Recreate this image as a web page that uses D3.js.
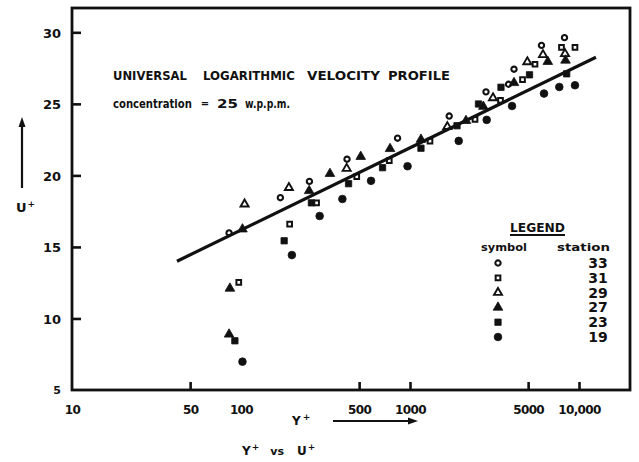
<!DOCTYPE html>
<html>
<head>
<meta charset="utf-8">
<script src="https://cdn.jsdelivr.net/npm/d3@7/dist/d3.min.js"></script>
<style>
  html, body { margin: 0; padding: 0; background: #fff; }
  svg { display: block; }
  text { font-family: "DejaVu Sans", "Liberation Sans", Arial, sans-serif; font-weight: bold; fill: #111; }
</style>
</head>
<body>
<svg id="chart" width="639" height="462"></svg>
<script>
// Y+ / U+ readings for each measuring station
const station33 = [[85,15.98],[171,18.44],[254,19.58],[424,21.13],[844,22.6],[1706,24.15],[2816,25.84],[3828,26.37],[4125,27.42],[5998,29.09],[8207,29.63]];
const station31 = [[97,12.52],[194,16.59],[280,18.08],[484,19.91],[754,21.03],[1313,22.39],[2425,23.91],[3432,25.25],[4632,26.7],[5490,27.77],[7876,28.95],[9467,28.95]];
const station29 = [[105,17.99],[192,19.14],[422,20.48],[1663,23.4],[3098,25.41],[4946,27.93],[6124,28.43],[8265,28.5]];
const station27 = [[85,8.89],[86,12.1],[102,16.24],[253,18.92],[336,20.12],[511,21.31],[762,21.86],[1161,22.51],[2144,23.82],[2716,24.81],[4125,26.47],[6538,27.95],[8320,28.04]];
const station23 = [[92,8.44],[180,15.43],[261,18.08],[433,19.42],[688,20.54],[1161,21.9],[1897,23.47],[2543,24.99],[3454,26.16],[5095,27.03],[8455,27.1]];
const station19 = [[102,6.98],[200,14.43],[292,17.16],[398,18.35],[588,19.62],[967,20.64],[1942,22.41],[2843,23.88],[4015,24.85],[6209,25.72],[7645,26.18],[9467,26.3]];

const stationNames = ["33", "31", "29", "27", "23", "19"];
const stationData = [station33, station31, station29, station27, station23, station19];

// fitted logarithmic law, drawn between these Y+ limits
const lawRange = [41.8, 12600];
const lawSlope = 5.75;      // per decade of Y+
const lawIntercept = 4.68;

const xTickValues = [10, 50, 100, 500, 1000, 5000, 10000];
const xTickLabels = ["10", "50", "100", "500", "1000", "5000", "10,000"];
const xTickMarked = [50, 500, 1000, 5000, 10000];
const yTickValues = [5, 10, 15, 20, 25, 30];

const svg = d3.select("#chart");
const plotLeft = 72, plotRight = 630, plotTop = 8, plotBottom = 390;
const ink = "#111";
const fontFamily = "DejaVu Sans, Liberation Sans, Arial, sans-serif";

const x = d3.scaleLog().domain([10, Math.pow(10, 1 + (plotRight - plotLeft) / 169)]).range([plotLeft, plotRight]);
const y = d3.scaleLinear().domain([5, 31.7]).range([plotBottom, plotTop]);

// marker styles per station: open circle, open square, open triangle, filled triangle, filled square, filled circle
const markerStyles = [
  { type: d3.symbolCircle,   size: 22, fill: "none", sw: 2.1 },
  { type: d3.symbolSquare,   size: 22, fill: "none", sw: 2.0 },
  { type: d3.symbolTriangle, size: 28, fill: "none", sw: 1.9 },
  { type: d3.symbolTriangle, size: 40, fill: ink, sw: 0.8 },
  { type: d3.symbolSquare,   size: 40, fill: ink, sw: 0.8 },
  { type: d3.symbolCircle,   size: 46, fill: ink, sw: 0.8 }
];
const symbolPath = s => d3.symbol().type(s.type).size(s.size)();

// text squeezed horizontally to a given width (scaled about its left edge)
function fittedText(str, tx, ty, size, width) {
  const t = svg.append("text").attr("x", 0).attr("y", 0).attr("font-size", size).text(str);
  const natural = t.node().getComputedTextLength();
  t.attr("transform", `translate(${tx},${ty}) scale(${width / natural},1)`);
  return t;
}

// frame
svg.append("rect")
  .attr("x", plotLeft).attr("y", plotTop)
  .attr("width", plotRight - plotLeft).attr("height", plotBottom - plotTop)
  .attr("fill", "none").attr("stroke", ink).attr("stroke-width", 2.8);

// y axis
const yAxis = d3.axisLeft(y).tickValues(yTickValues).tickSize(-9).tickPadding(11).tickFormat(d3.format("d"));
const gy = svg.append("g").attr("transform", `translate(${plotLeft},0)`).call(yAxis);
gy.select(".domain").remove();
gy.selectAll(".tick line").attr("stroke", ink).attr("stroke-width", 2.6)
  .attr("opacity", d => d === 5 ? 0 : 1);
gy.selectAll(".tick text").attr("font-family", fontFamily)
  .attr("font-weight", "bold").attr("fill", ink).attr("dy", "0.36em")
  .attr("font-size", d => d === 5 ? 11 : 13);

// x axis
const xAxis = d3.axisBottom(x).tickValues(xTickValues).tickSize(-8).tickPadding(15)
  .tickFormat((d, i) => xTickLabels[i]);
const gx = svg.append("g").attr("transform", `translate(0,${plotBottom})`).call(xAxis);
gx.select(".domain").remove();
gx.selectAll(".tick line").attr("stroke", ink).attr("stroke-width", 2.6)
  .attr("opacity", d => xTickMarked.includes(d) ? 1 : 0);
gx.selectAll(".tick text").attr("font-size", 12).attr("font-family", fontFamily)
  .attr("font-weight", "bold").attr("fill", ink).attr("letter-spacing", "-0.6px");

// logarithmic law line
const law = v => lawSlope * Math.log10(v) + lawIntercept;
svg.append("path")
  .datum(lawRange)
  .attr("d", d3.line().x(d => x(d)).y(d => y(law(d))))
  .attr("stroke", ink).attr("stroke-width", 3.2).attr("fill", "none");

// data points
stationData.forEach((pts, i) => {
  const s = markerStyles[i];
  svg.append("g").selectAll("path").data(pts).join("path")
    .attr("d", symbolPath(s))
    .attr("transform", d => `translate(${x(d[0])},${y(d[1])})`)
    .attr("fill", s.fill)
    .attr("stroke", ink)
    .attr("stroke-width", s.sw);
});

// titles
const titleWords = [["UNIVERSAL", 113, 74], ["LOGARITHMIC", 203, 92], ["VELOCITY", 307, 73], ["PROFILE", 388, 62]];
titleWords.forEach(([w, tx, tl]) => fittedText(w, tx, 80, 12.5, tl));
fittedText("concentration", 113, 108, 11.5, 79);
svg.append("text").attr("x", 205).attr("y", 107).attr("font-size", 10)
  .attr("text-anchor", "middle").text("=");
fittedText("25", 217, 108, 13, 21);
fittedText("w.p.p.m.", 245, 108, 11.5, 45);

// axis labels with arrows
const arrowHead = (px, py, dir) => {
  const pts = dir === "up"
    ? [[px, py], [px - 3.5, py + 10], [px + 3.5, py + 10]]
    : [[px, py], [px - 10, py - 3.5], [px - 10, py + 3.5]];
  svg.append("path").attr("d", "M" + pts.map(p => p.join(",")).join("L") + "Z").attr("fill", ink);
};
svg.append("line").attr("x1", 22).attr("x2", 22).attr("y1", 188).attr("y2", 124)
  .attr("stroke", ink).attr("stroke-width", 2.2);
arrowHead(22, 117, "up");
const uLabel = svg.append("text").attr("x", 16).attr("y", 212).attr("font-size", 13);
uLabel.append("tspan").text("U");
uLabel.append("tspan").attr("font-size", 9).attr("dy", -5).attr("dx", 1).text("+");

const yLabel = svg.append("text").attr("x", 292).attr("y", 425).attr("font-size", 12);
yLabel.append("tspan").text("Y");
yLabel.append("tspan").attr("font-size", 9).attr("dy", -5).attr("dx", 2).text("+");
svg.append("line").attr("x1", 333).attr("x2", 409).attr("y1", 421).attr("y2", 421)
  .attr("stroke", ink).attr("stroke-width", 2.2);
arrowHead(418, 421, "right");

const vsLabel = svg.append("text").attr("x", 242).attr("y", 455).attr("font-size", 12);
vsLabel.append("tspan").text("Y");
vsLabel.append("tspan").attr("font-size", 9).attr("dy", -5).attr("dx", 1).text("+");
vsLabel.append("tspan").attr("font-size", 11).attr("dy", 5).attr("dx", 11).text("vs");
vsLabel.append("tspan").attr("dx", 13).text("U");
vsLabel.append("tspan").attr("font-size", 9).attr("dy", -5).attr("dx", 1).text("+");

// legend
fittedText("LEGEND", 510, 232, 12, 55);
svg.append("line").attr("x1", 510).attr("x2", 565).attr("y1", 235).attr("y2", 235)
  .attr("stroke", ink).attr("stroke-width", 1.8);
fittedText("symbol", 481, 251, 11, 46);
fittedText("station", 557, 251, 11, 53);
stationNames.forEach((name, i) => {
  const ly = 263 + i * 14.8;
  const s = markerStyles[i];
  svg.append("path").attr("d", symbolPath(s))
    .attr("transform", `translate(498,${ly})`)
    .attr("fill", s.fill).attr("stroke", ink)
    .attr("stroke-width", s.sw);
  svg.append("text").attr("x", 598).attr("y", ly + 5).attr("font-size", 14)
    .attr("text-anchor", "middle").text(name);
});
</script>
</body>
</html>
